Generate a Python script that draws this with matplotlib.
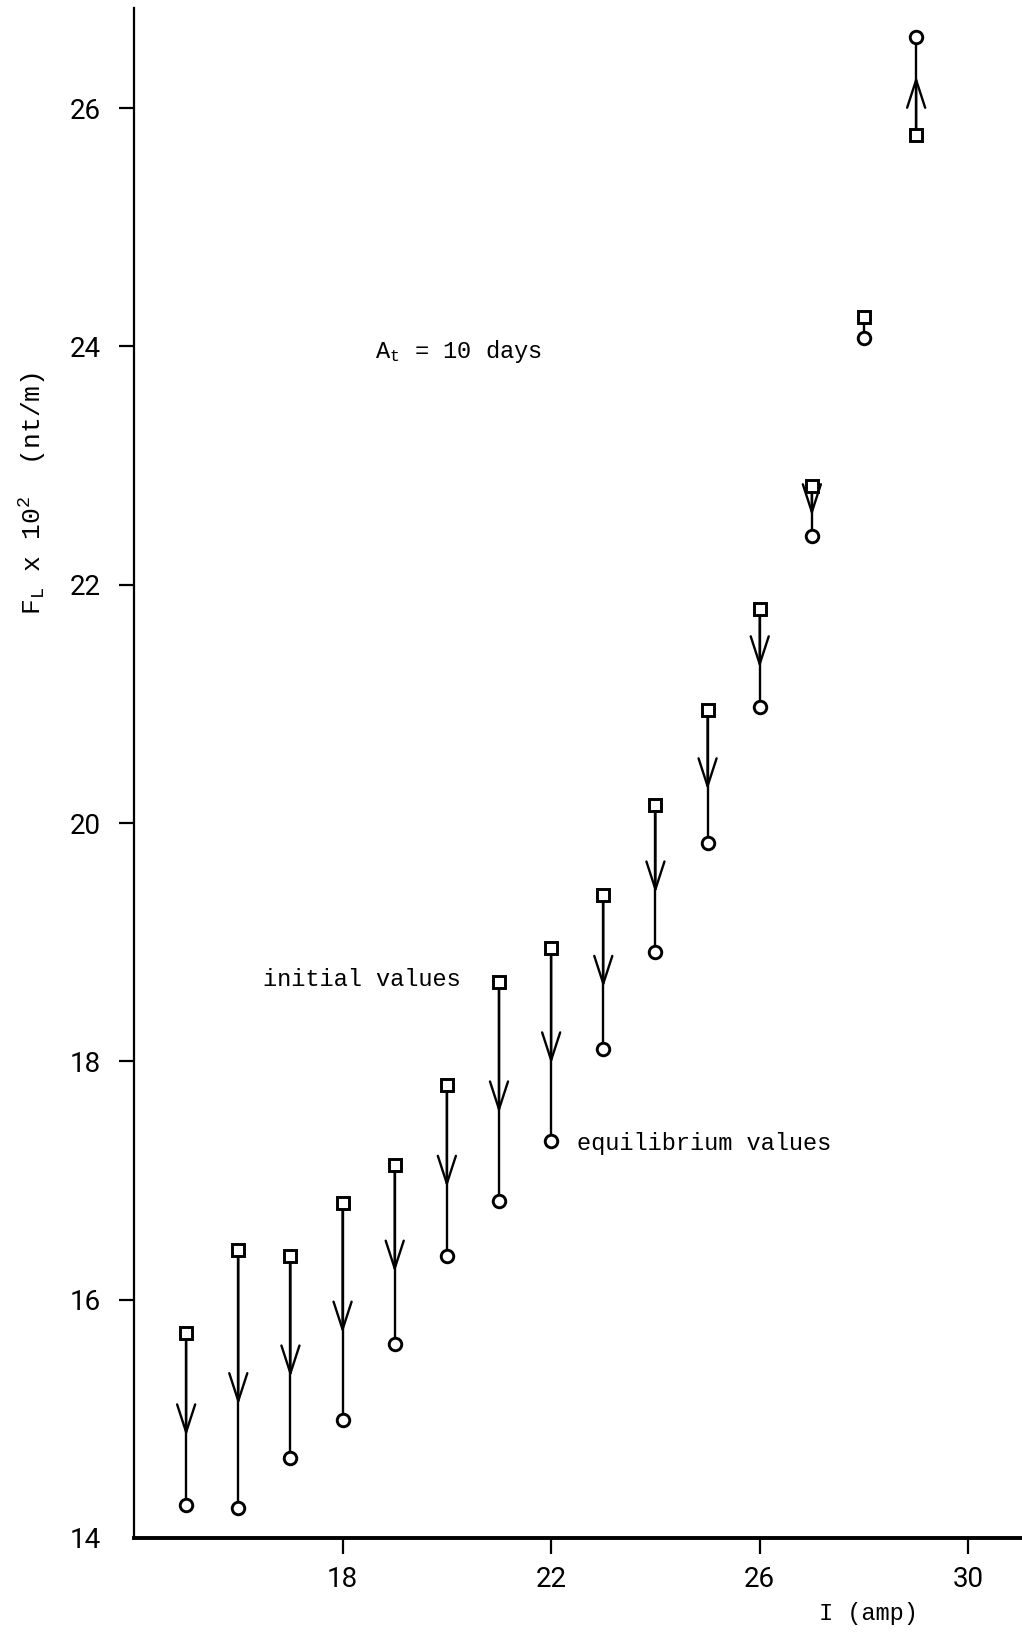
import matplotlib
matplotlib.use("Agg")
import matplotlib.pyplot as plt

# Data
current = [15, 16, 17, 18, 19, 20, 21, 22, 23, 24, 25, 26, 27, 28, 29]
initial = [15.72, 16.42, 16.37, 16.81, 17.13, 17.80, 18.67, 18.95, 19.40,
           20.15, 20.95, 21.80, 22.83, 24.25, 25.77]
equilibrium = [14.28, 14.25, 14.67, 14.99, 15.63, 16.37, 16.83, 17.33, 18.10,
               18.92, 19.83, 20.97, 22.41, 24.07, 26.60]
xticks = [18, 22, 26, 30]
yticks = [14, 16, 18, 20, 22, 24, 26]

plt.rcParams['mathtext.fontset'] = 'custom'
plt.rcParams['mathtext.rm'] = 'Liberation Mono'
plt.rcParams['mathtext.it'] = 'Liberation Mono'
plt.rcParams['mathtext.tt'] = 'Liberation Mono'

W, H = 1022, 1635
fig = plt.figure(figsize=(W / 100, H / 100), dpi=100)
left_px, bottom_px, top_px = 134, 1538, 8
ax = fig.add_axes([left_px / W, (H - bottom_px) / H, 1 - left_px / W, (bottom_px - top_px) / H])
ax.set_xlim(14, 31.03)
ax.set_ylim(14, 26.84)

for s in ['top', 'right']:
    ax.spines[s].set_visible(False)
ax.spines['left'].set_linewidth(1.6)
ax.spines['bottom'].set_linewidth(2.8)

mono = ['Liberation Mono', 'DejaVu Sans Mono']
thin = ['Roboto', 'DejaVu Sans']

ax.set_xticks(xticks)
ax.set_yticks(yticks)
ax.set_xticklabels([str(v) for v in xticks], fontfamily=thin, fontsize=20)
ax.set_yticklabels([str(v) for v in yticks], fontfamily=thin, fontsize=20)
ax.tick_params(axis='y', direction='out', length=11, width=1.6, pad=13)
ax.tick_params(axis='x', direction='out', length=11.5, width=1.6, pad=9)
ax.yaxis.get_major_ticks()[0].tick1line.set_visible(False)

frac = 0.6
for x, a, b in zip(current, initial, equilibrium):
    ax.plot([x, x], [a, b], color='black', lw=1.7, zorder=2)
    if abs(b - a) > 0.3:
        tip = a + frac * (b - a)
        ax.annotate('', xy=(x, tip), xytext=(x, a),
                    arrowprops=dict(arrowstyle='->,head_length=2.0,head_width=0.65',
                                    lw=1.7, color='black', shrinkA=0, shrinkB=0),
                    zorder=3)

ax.plot(current, initial, linestyle='none', marker='s', markersize=8.5,
        markerfacecolor='white', markeredgecolor='black', markeredgewidth=2.1, zorder=4)
ax.plot(current, equilibrium, linestyle='none', marker='o', markersize=9,
        markerfacecolor='white', markeredgecolor='black', markeredgewidth=2.1, zorder=4)

ax.text(20.27, 18.69, 'initial values', ha='right', va='center',
        fontfamily=mono, fontsize=17)
ax.text(22.49, 17.31, 'equilibrium values', ha='left', va='center',
        fontfamily=mono, fontsize=17)
ax.text(18.62, 23.96, r'A$_\mathrm{t}$ = 10 days', ha='left', va='center',
        fontfamily=mono, fontsize=17)

fig.text(868 / W, 1 - 1613 / H, 'I (amp)', ha='center', va='center',
         fontfamily=mono, fontsize=17)
fig.text(33 / W, 1 - 493 / H, r'F$_\mathrm{L}$ x 10$^\mathrm{2}$  (nt/m)', ha='center', va='center',
         rotation=90, fontfamily=mono, fontsize=19)

fig.savefig('out.png', dpi=100)
